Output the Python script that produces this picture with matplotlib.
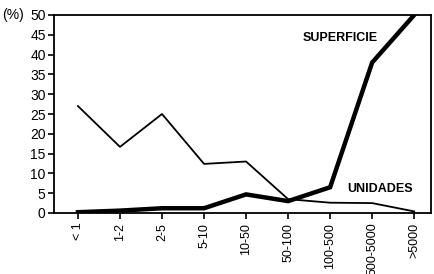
import matplotlib
matplotlib.use("Agg")
import matplotlib.pyplot as plt

plt.rcParams['font.family'] = ['Liberation Sans', 'DejaVu Sans']

categories = ['< 1', '1-2', '2-5', '5-10', '10-50', '50-100', '100-500', '500-5000', '>5000']
unidades = [27, 16.7, 25, 12.4, 13, 3.5, 2.6, 2.5, 0.4]
superficie = [0.2, 0.6, 1.2, 1.2, 4.7, 3.0, 6.5, 38, 50]

fig = plt.figure(figsize=(4.34, 2.74), dpi=100)
ax = fig.add_axes([54/434, 1 - 213/274, (431-54)/434, (213-15)/274])

x = list(range(len(categories)))
ax.plot(x, unidades, color='black', lw=1.3)
ax.plot(x, superficie, color='black', lw=3.2, solid_joinstyle='miter')

ax.set_xlim(-0.57, 8.4)
ax.set_ylim(0, 50)
ax.set_yticks(range(0, 51, 5))
ax.set_xticks(x)
ax.set_xticklabels(categories, rotation=90, fontsize=9)
ax.tick_params(axis='y', labelsize=10, length=4, width=1.2, pad=2)
ax.tick_params(axis='x', length=4, width=1.2, pad=3)
for s in ax.spines.values():
    s.set_linewidth(1.3)

fig.text(340/434, 1 - 38/274, 'SUPERFICIE', fontsize=9, fontweight='bold',
         ha='center', va='center')
fig.text(380/434, 1 - 189/274, 'UNIDADES', fontsize=9, fontweight='bold',
         ha='center', va='center')
fig.text(13/434, 1 - 15/274, '(%)', fontsize=10, ha='center', va='center')

fig.savefig('out.png', dpi=100)
